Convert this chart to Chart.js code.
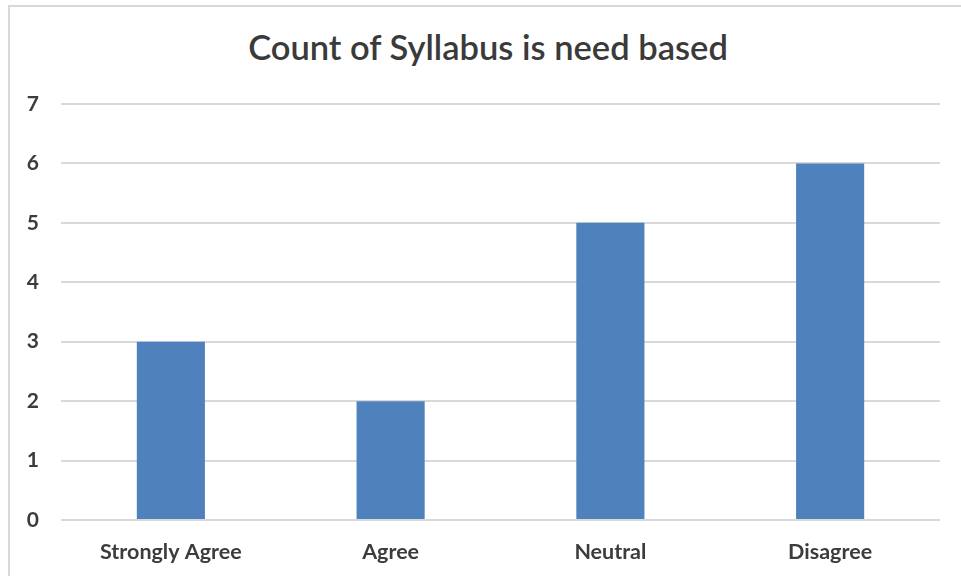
<!DOCTYPE html>
<html>
<head>
<meta charset="utf-8">
<script src="https://cdn.jsdelivr.net/npm/chart.js@4"></script>
<style>
  html, body { margin: 0; padding: 0; background: #fff; }
  #wrap { position: relative; width: 961px; height: 576px; overflow: hidden; }
  #frame {
    position: absolute; left: 8px; top: 5px; right: 0; bottom: 0;
    border-top: 2px solid #d9d9d9; border-left: 2px solid #d9d9d9;
  }
  #title {
    position: absolute; left: 8px; width: 960px; top: 27px;
    text-align: center; font-family: Lato, sans-serif; font-size: 34.5px;
    font-weight: 600; color: #3a3a3a; line-height: 40px;
  }
  #chartBox { position: absolute; left: 0; top: 0; width: 961px; height: 576px; }
</style>
</head>
<body>
<div id="wrap">
  <div id="frame"></div>
  <div id="title"></div>
  <div id="chartBox"><canvas id="chart"></canvas></div>
</div>
<script>
  const chartTitle = 'Count of Syllabus is need based';
  const categories = ['Strongly Agree', 'Agree', 'Neutral', 'Disagree'];
  const counts = [3, 2, 5, 6];
  const yMin = 0;
  const yMax = 7;
  const yStep = 1;

  const textColor = '#3c3c3c';
  const gridColor = '#d9d9d9';
  const barColor = '#4f81bd';

  document.getElementById('title').textContent = chartTitle;

  new Chart(document.getElementById('chart'), {
    type: 'bar',
    data: {
      labels: categories,
      datasets: [{
        label: 'Count',
        data: counts,
        backgroundColor: barColor,
        borderWidth: 0,
        categoryPercentage: 1,
        barPercentage: 0.31
      }]
    },
    options: {
      responsive: true,
      maintainAspectRatio: false,
      animation: false,
      layout: { padding: { top: 104, right: 21, bottom: 0, left: 0 } },
      plugins: {
        legend: { display: false },
        tooltip: { enabled: false },
        title: { display: false }
      },
      scales: {
        x: {
          afterFit(scale) { scale.height = 56; },
          grid: { display: false },
          border: { display: false },
          ticks: {
            color: textColor,
            padding: 11,
            font: { family: 'Lato', size: 21.5, weight: 'bold' }
          }
        },
        y: {
          min: yMin,
          max: yMax,
          afterFit(scale) { scale.width = 61; },
          grid: { color: gridColor, lineWidth: 2, drawTicks: false },
          border: { display: false },
          ticks: {
            stepSize: yStep,
            color: textColor,
            padding: 22,
            font: { family: 'Lato', size: 21, weight: 'bold' }
          }
        }
      }
    }
  });
</script>
</body>
</html>
